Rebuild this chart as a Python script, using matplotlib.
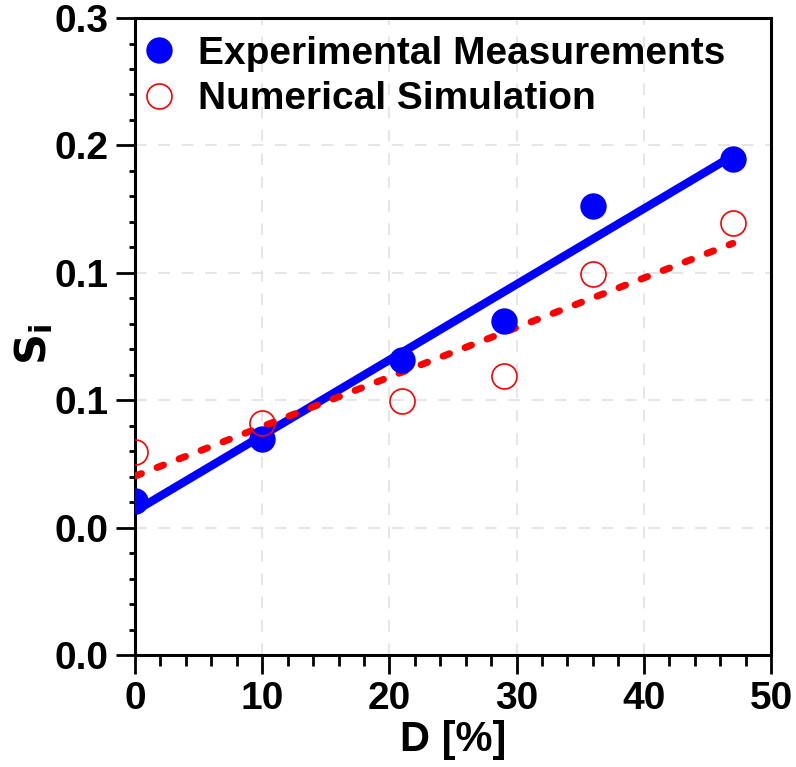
import matplotlib
matplotlib.use("Agg")
import matplotlib.pyplot as plt
import numpy as np

plt.rcParams['font.family'] = ['Liberation Sans', 'DejaVu Sans']
plt.rcParams['font.weight'] = 'bold'

# Data
D = [0, 10, 21, 29, 36, 47]
exp_vals = [0.0727, 0.1017, 0.1389, 0.1573, 0.2116, 0.2336]
num_vals = [0.0957, 0.1091, 0.1198, 0.1315, 0.1794, 0.2036]
x_ticks = [0, 10, 20, 30, 40, 50]
y_ticks = [0.0, 0.06, 0.12, 0.18, 0.24, 0.30]
y_tick_labels = ["0.0", "0.0", "0.1", "0.1", "0.2", "0.3"]

fig = plt.figure(figsize=(7.96, 7.67), dpi=100)
ax = fig.add_axes([0.1696, 0.146, 0.799, 0.8305])

x = np.array(D, dtype=float)
pe = np.polyfit(x, exp_vals, 1)
pn = np.polyfit(x, num_vals, 1)
xf = np.array([x.min(), x.max()])

ax.plot(xf, np.polyval(pe, xf), color='#0000ff', lw=6, solid_capstyle='butt', zorder=3)
ax.plot(xf, np.polyval(pn, xf), color='#ff0000', lw=5, dashes=(1.0, 2.4),
        dash_capstyle='round', zorder=3)

ax.plot(D, exp_vals, 'o', color='#0000ff', markersize=19, markeredgewidth=0,
        label='Experimental Measurements', zorder=4)
ax.plot(D, num_vals, 'o', markerfacecolor='none', markeredgecolor='#ff0000',
        markersize=18, markeredgewidth=1.2, label='Numerical Simulation', zorder=4)

ax.set_xlim(0, 50)
ax.set_ylim(0, 0.3)
ax.set_xticks(x_ticks)
ax.set_xticklabels([str(t) for t in x_ticks])
ax.set_yticks(y_ticks)
ax.set_yticklabels(y_tick_labels)
ax.set_xticks(np.arange(0, 50.1, 2), minor=True)
ax.set_yticks(np.arange(0, 0.3001, 0.012), minor=True)

ax.grid(True, which='major', color='#e2e2e2', linestyle=(0, (7, 7)), lw=1.2, zorder=0)
ax.set_axisbelow(True)

for s in ax.spines.values():
    s.set_linewidth(2.2)

ax.tick_params(axis='both', which='major', direction='out', length=14, width=2,
               labelsize=28, pad=5)
ax.tick_params(axis='x', which='minor', direction='out', length=8, width=2)
ax.tick_params(axis='y', which='minor', direction='out', length=4, width=2)
for lab in ax.get_xticklabels() + ax.get_yticklabels():
    lab.set_fontweight('bold')

ax.set_xlabel('D [%]', fontsize=30, fontweight='bold', labelpad=2)
ax.set_ylabel(r'$\mathbf{S_i}$', fontsize=31)
ax.yaxis.set_label_coords(-0.126, 0.488)

leg = ax.legend(loc='upper left', bbox_to_anchor=(-0.027, 1.006), frameon=False,
                handletextpad=0.5, borderaxespad=0.15, labelspacing=0.25,
                handlelength=1.0, prop={'weight': 'bold', 'size': 28})

fig.savefig('out.png', dpi=100)
